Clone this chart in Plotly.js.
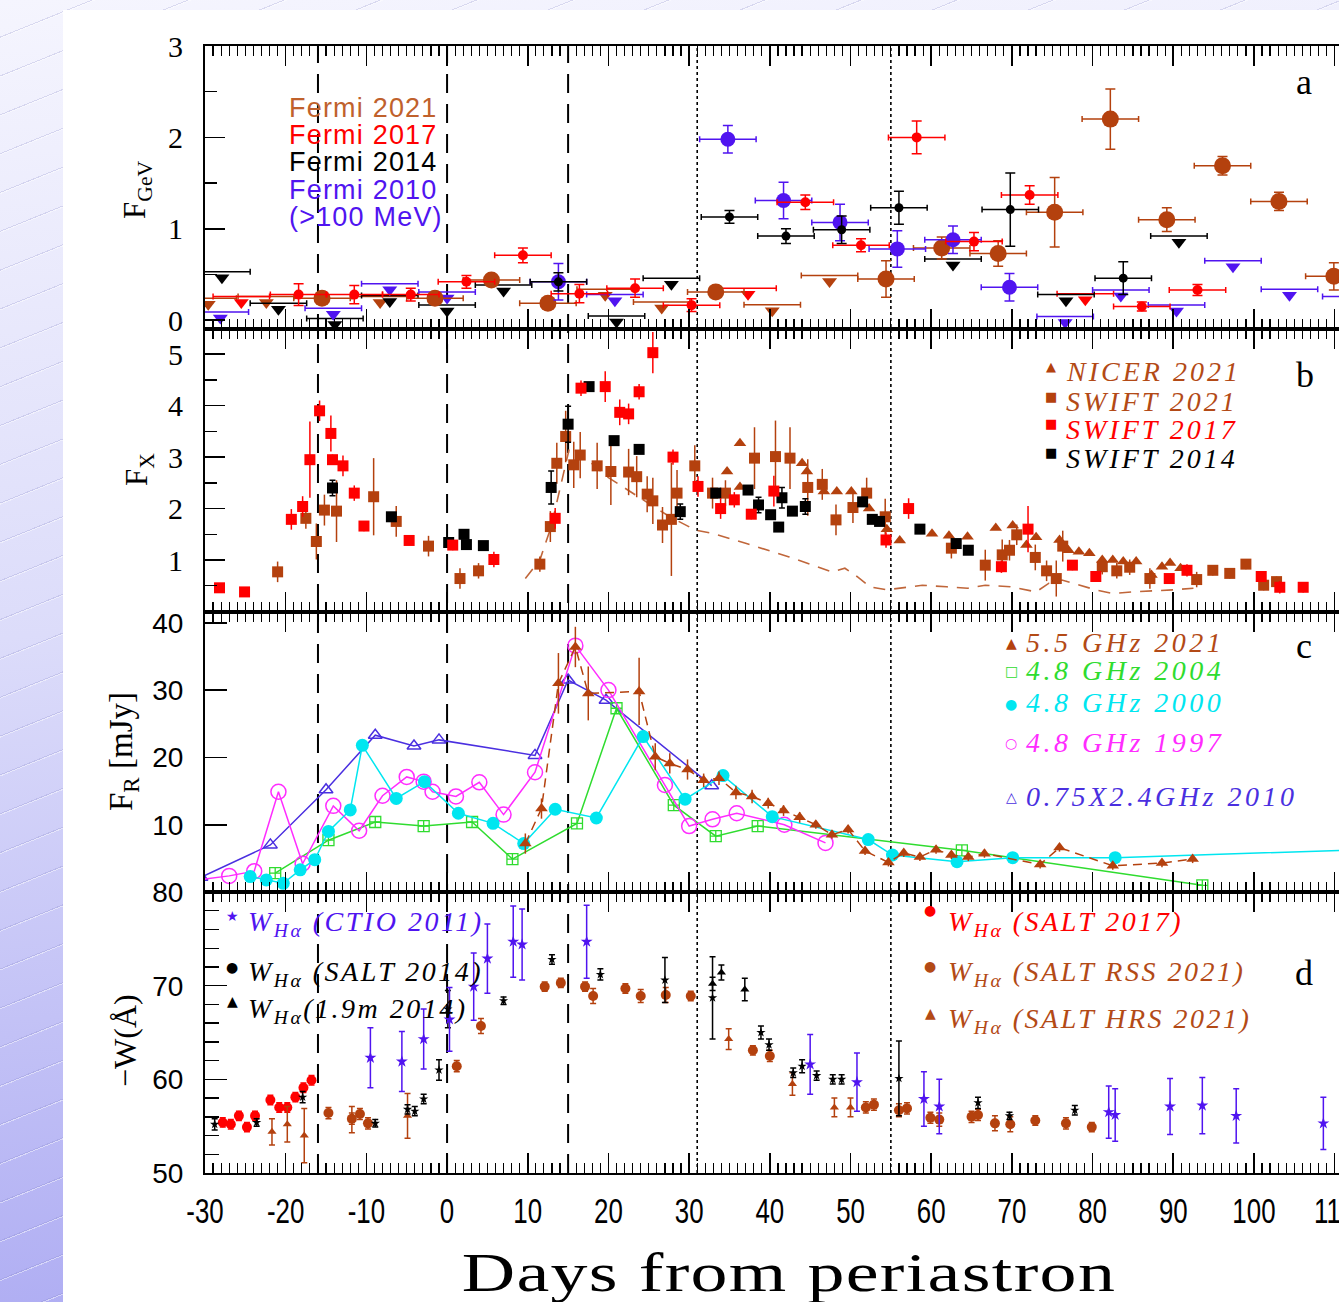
<!DOCTYPE html>
<html>
<head>
<meta charset="utf-8">
<script src="https://cdn.plot.ly/plotly-3.0.1.min.js"></script>
<style>
  html, body { margin: 0; padding: 0; width: 1339px; height: 1302px; overflow: hidden; }
  body {
    background:
      repeating-linear-gradient(158deg, rgba(0,0,0,0) 0px, rgba(0,0,0,0) 34px,
        rgba(120,120,190,0.22) 34px, rgba(120,120,190,0.22) 35px,
        rgba(255,255,255,0.45) 35px, rgba(255,255,255,0.45) 36px),
      linear-gradient(175deg, #f5f5fe 0%, #dcdcfa 45%, #a9a7f2 100%);
  }
  #sheet { position: absolute; left: 63px; top: 10px; width: 1276px; height: 1292px; background: #fff; overflow: hidden; }
  #chart { position: absolute; left: 0; top: 0; }
</style>
</head>
<body>
<div id="sheet"><div id="chart"></div></div>
<script>
// ---------------- x axis: days from periastron ----------------
const dayTicks = [-30, -20, -10, 0, 10, 20, 30, 40, 50, 60, 70, 80, 90, 100, 110];
const dayTickText = ['-30', '-20', '-10', '0', '10', '20', '30', '40', '50', '60', '70', '80', '90', '100', '110'];
const periastronMarks = [-16, 0, 15];   // dashed guides
const discMarks = [31, 55];             // dotted guides

// ---------------- panel a: Fermi (>100 MeV) ----------------
const fermi21Day  = [-15.5, -1.5, 5.5, 12.5, 33.3, 54.4, 61.3, 68.3, 75.3, 82.2, 89.2, 96.1, 103.1, 109.9];
const fermi21Flux = [0.24, 0.24, 0.44, 0.185, 0.31, 0.45, 0.79, 0.73, 1.18, 2.2, 1.10, 1.69, 1.30, 0.48];
const fermi21Err  = [0.06, 0.06, 0.06, 0.06, 0.06, 0.2, 0.12, 0.14, 0.38, 0.33, 0.13, 0.1, 0.1, 0.15];
const fermi21LimDay  = [-29.6, -22.4, -8.3, 19.6, 26.6, 40.3, 47.4];
const fermi21LimFlux = [0.24, 0.26, 0.26, 0.34, 0.2, 0.17, 0.49];

const fermi17Day  = [-18.4, -11.5, -4.5, 2.4, 9.4, 16.4, 23.3, 30.3, 44.4, 51.3, 58.2, 65.3, 72.2, 86.1, 93.0];
const fermi17Flux = [0.28, 0.28, 0.28, 0.42, 0.71, 0.29, 0.35, 0.165, 1.29, 0.82, 2.0, 0.86, 1.37, 0.15, 0.33];
const fermi17Err  = [0.12, 0.1, 0.07, 0.07, 0.08, 0.1, 0.1, 0.07, 0.08, 0.07, 0.18, 0.1, 0.1, 0.05, 0.06];
const fermi17LimDay  = [-25.5, 37.3, 79.1];
const fermi17LimFlux = [0.26, 0.35, 0.29];

const fermi14Day  = [13.8, 35.0, 42.0, 48.9, 56.0, 69.8, 83.8];
const fermi14Flux = [0.42, 1.13, 0.92, 0.99, 1.23, 1.21, 0.46];
const fermi14Err  = [0.1, 0.07, 0.08, 0.15, 0.18, 0.4, 0.18];
const fermi14LimDay  = [-27.9, -20.9, -13.9, -7.1, 0.0, 7.0, 21.0, 27.8, 62.7, 76.7, 90.7];
const fermi14LimFlux = [0.53, 0.185, 0.02, 0.27, 0.167, 0.385, 0.046, 0.46, 0.67, 0.28, 0.92];

const fermi10Day  = [13.8, 34.8, 41.7, 48.7, 55.8, 62.7, 69.7];
const fermi10Flux = [0.42, 1.98, 1.31, 1.07, 0.78, 0.88, 0.36];
const fermi10Err  = [0.2, 0.15, 0.2, 0.2, 0.2, 0.15, 0.15];
const fermi10LimDay  = [-28.1, -14.1, -7.1, 0.0, 20.8, 76.6, 83.5, 90.4, 97.4, 104.4, 112.0];
const fermi10LimFlux = [0.09, 0.13, 0.4, 0.31, 0.28, 0.04, 0.33, 0.167, 0.65, 0.34, 0.26];
const fermiHalfBin = 3.5;

// ---------------- panel b: X-ray ----------------
const nicer21Day  = [34.7, 36.3, 36.3, 44.0, 44.6, 46.7, 48.3, 50.1, 52.3, 54.5, 56.1, 60.1, 62.2, 64.5, 68.0,
                     70.1, 71.8, 73.0, 75.9, 77.0, 78.3, 79.6, 81.2, 82.5, 83.8, 85.4, 87.3, 88.6, 89.6, 90.9];
const nicer21Flux = [2.72, 3.27, 2.42, 2.88, 2.72, 2.33, 2.33, 2.33, 2.0, 1.6, 1.38, 1.51, 1.47, 1.45, 1.62,
                     1.67, 1.29, 1.44, 1.39, 1.19, 1.16, 1.13, 1.0, 1.0, 0.97, 0.97, 0.71, 0.87, 0.94, 0.84];

const swift21Day  = [-21.0, -17.5, -16.2, -15.2, -13.7, -9.1, -6.3, -2.3, 1.6, 3.9,
                     11.5, 12.8, 13.6, 14.7, 15.7, 16.5, 18.6, 20.3, 22.5, 23.5,
                     24.8, 25.5, 26.7, 27.8, 28.5, 30.7, 32.9, 34.5, 38.1, 40.7,
                     42.5, 44.7, 46.5, 48.2, 50.3, 52.0, 54.3, 62.5, 66.7, 68.8,
                     69.7, 70.6, 72.9, 74.3, 75.5, 76.3, 81.2, 83.0, 84.6, 87.1,
                     92.9, 94.9, 97.0, 99.0, 101.2, 102.8];
const swift21Flux = [0.77, 1.81, 1.36, 1.97, 1.95, 2.23, 1.75, 1.27, 0.64, 0.79,
                     0.92, 1.65, 2.88, 3.4, 2.85, 3.04, 2.83, 2.72, 2.71, 2.62,
                     2.28, 2.15, 1.68, 1.79, 2.3, 2.83, 2.3, 2.3, 2.98, 3.01,
                     2.98, 2.41, 2.47, 1.78, 2.02, 2.3, 1.84, 1.23, 0.9, 1.1,
                     1.19, 1.49, 1.05, 0.79, 0.64, 1.27, 0.87, 0.79, 0.86, 0.64,
                     0.62, 0.8, 0.74, 0.92, 0.51, 0.58];
const swift21Err  = [0.2, 0.2, 0.35, 0.3, 0.6, 0.75, 0.3, 0.2, 0.2, 0.15,
                     0.15, 0.3, 0.4, 0.5, 0.45, 0.45, 0.45, 0.65, 0.45, 0.4,
                     0.35, 0.45, 0.35, 1.1, 0.45, 0.4, 0.3, 0.25, 0.6, 0.7,
                     0.6, 0.55, 0.3, 0.3, 0.3, 0.3, 0.35, 0.2, 0.3, 0.3,
                     0.2, 0.2, 0.25, 0.2, 0.35, 0.3, 0.15, 0.15, 0.15, 0.2,
                     0.15, 0.1, 0.1, 0.1, 0.1, 0.1];

const swift17Day  = [-28.2, -25.1, -19.3, -17.9, -17.0, -15.8, -14.4, -14.2, -12.9, -11.5,
                     -10.3, -4.7, 0.7, 5.8, 13.4, 16.6, 19.6, 21.4, 22.5, 23.8,
                     25.5, 28.0, 31.1, 33.9, 35.6, 37.7, 40.5, 54.4, 57.2, 68.7,
                     72.0, 77.5, 80.4, 89.5, 91.7, 100.9, 103.2, 106.1];
const swift17Flux = [0.46, 0.38, 1.79, 2.04, 2.95, 3.9, 3.46, 2.95, 2.83, 2.3,
                     1.66, 1.38, 1.29, 1.01, 1.81, 4.34, 4.37, 3.87, 3.84, 4.27,
                     5.03, 3.0, 2.43, 2.0, 2.17, 1.89, 2.34, 1.39, 2.0, 0.87,
                     1.6, 0.9, 0.68, 0.64, 0.8, 0.68, 0.47, 0.47];
const swift17Err  = [0.05, 0.05, 0.2, 0.2, 0.74, 0.2, 0.35, 0.1, 0.2, 0.15,
                     0.1, 0.08, 0.1, 0.15, 0.2, 0.15, 0.3, 0.25, 0.2, 0.15,
                     0.4, 0.15, 0.2, 0.2, 0.15, 0.1, 0.3, 0.15, 0.2, 0.12,
                     0.45, 0.1, 0.1, 0.08, 0.12, 0.1, 0.12, 0.1];

const swift14Day  = [-14.2, -6.9, 0.2, 2.1, 2.4, 4.5, 12.9, 15.0, 17.6, 20.7,
                     23.8, 28.9, 33.3, 37.3, 38.6, 40.1, 41.1, 41.5, 42.8, 44.4,
                     51.5, 52.7, 53.6, 58.6, 63.1, 64.6];
const swift14Flux = [2.4, 1.84, 1.34, 1.5, 1.3, 1.28, 2.41, 3.64, 4.37, 3.32,
                     3.15, 1.94, 2.3, 2.36, 2.07, 1.88, 1.64, 2.21, 1.95, 2.04,
                     2.13, 1.79, 1.75, 1.6, 1.32, 1.19];
const swift14Err  = [0.15, 0.05, 0.05, 0.05, 0.05, 0.05, 0.32, 0.35, 0.05, 0.05,
                     0.05, 0.15, 0.05, 0.08, 0.15, 0.05, 0.05, 0.2, 0.05, 0.15,
                     0.05, 0.05, 0.05, 0.05, 0.05, 0.05];

const xrayTrendDay  = [9.7, 11.5, 12.9, 14.0, 15.2, 17.0, 20.0, 24.0, 27.6, 30.8,
                       32.9, 37.1, 42.4, 47.7, 49.3, 50.8, 52.4, 54.5, 57.2, 58.9,
                       61.9, 64.5, 66.7, 69.8, 73.0, 74.6, 76.2, 80.4, 82.5, 85.0,
                       89.9, 92.5];
const xrayTrendFlux = [0.64, 1.0, 1.65, 2.4, 3.2, 3.0, 2.6, 2.2, 1.84, 1.58,
                       1.52, 1.32, 1.06, 0.77, 0.84, 0.68, 0.48, 0.42, 0.48, 0.51,
                       0.48, 0.45, 0.51, 0.48, 0.38, 0.55, 0.61, 0.42, 0.35, 0.38,
                       0.42, 0.45];

// ---------------- panel c: radio (mJy) ----------------
const radio21Day  = [9.7, 11.7, 13.8, 15.9, 17.5, 23.8, 25.8, 27.6, 29.8, 31.8,
                     33.7, 35.8, 37.8, 39.8, 41.7, 43.7, 45.7, 47.7, 49.7, 51.8,
                     54.7, 56.6, 58.6, 60.6, 62.5, 64.6, 66.6, 73.5, 75.9, 82.5,
                     88.6, 92.4];
const radio21Flux = [7.2, 12.4, 31.0, 36.4, 29.5, 29.8, 20.1, 19.1, 18.2, 16.6,
                     16.9, 14.8, 14.2, 13.2, 12.1, 11.1, 10.0, 8.5, 9.3, 6.1,
                     4.4, 5.8, 5.2, 6.3, 5.5, 5.2, 5.7, 4.1, 6.6, 3.9,
                     4.3, 4.9];
const radio21Err  = [1.5, 1.5, 4.5, 3.0, 4.0, 5.0, 2.0, 1.5, 1.5, 1.0,
                     1.0, 1.0, 1.0, 0.8, 0.8, 0.8, 0.6, 0.6, 0.6, 0.6,
                     0.6, 0.6, 0.6, 0.6, 0.6, 0.6, 0.6, 0.6, 0.6, 0.6,
                     0.6, 0.6];

const radio04Day  = [-21.3, -14.7, -8.9, -2.9, 3.1, 8.1, 16.1, 21.0, 28.1, 33.3, 38.5, 63.8, 93.6];
const radio04Flux = [2.8, 7.7, 10.4, 9.8, 10.4, 4.9, 10.2, 27.3, 12.9, 8.3, 9.8, 6.2, 1.0];

const radio00Day  = [-24.4, -22.4, -20.3, -18.2, -16.4, -14.7, -12.0, -10.5, -6.3, -2.8,
                     1.4, 5.7, 9.5, 13.4, 18.5, 24.3, 29.5, 34.2, 40.3, 52.2,
                     55.2, 63.2, 70.1, 82.8, 116.0];
const radio00Flux = [2.3, 1.8, 1.3, 3.3, 4.8, 9.0, 12.2, 21.8, 13.9, 16.4,
                     11.7, 10.2, 7.2, 12.3, 11.0, 23.1, 13.8, 17.3, 11.2, 7.8,
                     5.5, 4.5, 5.1, 5.1, 6.4];

const radio97Day  = [-31.5, -27.0, -23.9, -20.9, -17.9, -14.1, -10.9, -8.0, -5.0, -2.9,
                     -1.8, 1.1, 4.0, 7.0, 10.9, 15.9, 20.0, 27.0, 30.0, 32.9,
                     35.9, 41.8, 46.9];
const radio97Flux = [1.7, 2.4, 3.1, 14.9, 4.2, 12.8, 9.1, 14.3, 17.1, 16.4,
                     14.9, 14.2, 16.3, 11.5, 17.8, 36.6, 30.0, 15.9, 9.8, 10.8,
                     11.7, 10.0, 7.3];

const radio10Day  = [-30.5, -21.9, -15.0, -8.9, -4.1, -1.0, 10.9, 15.0, 19.7, 32.8];
const radio10Flux = [2.2, 7.0, 15.2, 23.3, 21.7, 22.6, 20.3, 31.5, 28.5, 15.8];   // 0.75 x 2.4 GHz

// ---------------- panel d: H-alpha equivalent width ----------------
const ctio11Day = [-9.5, -5.6, -2.9, 0.3, 3.3, 5.0, 8.2, 9.3, 17.3, 45.0,
                   50.8, 59.1, 61.0, 82.0, 82.8, 89.6, 93.6, 97.8, 108.6];
const ctio11W   = [62.3, 61.9, 64.3, 66.4, 69.9, 72.9, 74.7, 74.4, 74.7, 61.6,
                   59.7, 57.9, 57.1, 56.5, 56.2, 57.1, 57.2, 56.1, 55.3];
const ctio11Err = [3.2, 3.2, 3.2, 3.4, 3.6, 3.7, 3.8, 3.8, 3.9, 3.2,
                   3.1, 2.9, 2.9, 2.8, 2.8, 3.0, 3.0, 2.9, 2.8];

const salt14Day = [-28.8, -23.6, -17.9, -8.9, -4.9, -4.0, -2.9, -1.0, 0.1, 7.0,
                   13.0, 19.0, 27.0, 32.9, 38.9, 39.9, 42.9, 44.0, 45.8, 47.8,
                   48.9, 56.0, 65.8, 69.7, 77.8];
const salt14W   = [55.2, 55.4, 58.1, 55.3, 56.8, 56.6, 57.9, 61.0, 67.5, 68.4,
                   72.8, 71.2, 70.6, 68.7, 65.0, 63.7, 60.7, 61.4, 60.4, 60.0,
                   60.0, 60.1, 57.5, 56.1, 56.7];
const salt14Err = [0.6, 0.4, 0.6, 0.4, 0.5, 0.5, 0.5, 1.1, 2.0, 0.4,
                   0.5, 0.6, 2.4, 4.4, 0.7, 0.6, 0.5, 0.7, 0.5, 0.5,
                   0.5, 4.0, 0.6, 0.4, 0.5];

const m19Day = [32.9, 34.0, 36.9];
const m19W   = [70.2, 71.4, 69.6];
const m19Err = [0.7, 0.8, 1.2];

const salt17Day = [-27.8, -26.8, -25.8, -24.8, -23.8, -21.9, -20.8, -19.8, -18.8, -17.8, -16.8];
const salt17W   = [55.4, 55.2, 56.1, 54.9, 56.1, 57.8, 57.0, 57.0, 58.1, 59.1, 59.9];
const salt17Err = [0.5, 0.5, 0.5, 0.5, 0.5, 0.5, 0.5, 0.5, 0.5, 0.5, 0.5];

const rss21Day = [-14.7, -11.8, -10.8, -9.8, 1.2, 4.2, 12.1, 14.1, 17.1, 18.1,
                  22.1, 24.0, 27.1, 30.2, 37.9, 40.0, 51.9, 52.9, 56.0, 57.0,
                  59.9, 61.0, 65.0, 65.8, 67.9, 69.8, 72.9, 76.7, 79.9];
const rss21W   = [56.4, 55.8, 56.3, 55.3, 61.4, 65.7, 69.9, 70.3, 69.9, 68.9,
                  69.7, 68.9, 69.0, 68.9, 63.1, 62.5, 57.0, 57.3, 56.7, 56.9,
                  55.9, 55.7, 56.0, 56.2, 55.3, 55.2, 55.6, 55.3, 54.9];
const rss21Err = [0.6, 0.6, 0.6, 0.6, 0.6, 0.8, 0.5, 0.5, 0.5, 0.8,
                  0.5, 0.7, 0.8, 0.5, 0.5, 0.6, 0.6, 0.6, 0.7, 0.6,
                  0.6, 0.7, 0.6, 0.6, 0.8, 0.8, 0.5, 0.6, 0.5];

const hrs21Day = [-21.7, -19.8, -17.7, -11.8, -4.9, 34.9, 42.8, 48.0, 50.0];
const hrs21W   = [54.4, 55.2, 54.0, 55.7, 56.1, 64.3, 59.5, 57.0, 57.0];
const hrs21Err = [1.4, 1.9, 2.9, 1.4, 2.4, 1.1, 1.2, 1.0, 1.0];

// ---------------- colours & fonts ----------------
const BROWN = '#b4410e', BROWN_TXT = '#c0612c', BROWN_KEY = '#b34a16', RED = '#ff0000', BLUE = '#5014f0',
      BLACK = '#000000', CYAN = '#00e6f0', GREEN = '#2fdc2f', MAGENTA = '#ff2cff', RBLUE = '#4a2fe0';
const SERIF = '"Liberation Serif", "Times New Roman", serif';
const SANS = '"Liberation Sans", Arial, sans-serif';
const GLYPH = '"DejaVu Sans", sans-serif';

// plot-area geometry (page pixels) used to place text in paper coordinates
const PLOT_LEFT = 205, PLOT_BOTTOM = 1173, PLOT_W = 1170, PLOT_H = 1127;
const px2paperX = px => (px - PLOT_LEFT) / PLOT_W;
const px2paperY = py => (PLOT_BOTTOM - py) / PLOT_H;

const AXES = { a: ['x', 'y'], b: ['x2', 'y2'], c: ['x3', 'y3'], d: ['x4', 'y4'] };
const PX_PER_UNIT = { a: 91.3 };

function series(panel, x, y, o) {
  const t = {
    type: 'scatter', mode: o.mode || 'markers', x: x, y: y,
    xaxis: AXES[panel][0], yaxis: AXES[panel][1],
    marker: { symbol: o.symbol || 'circle', size: o.size || 10,
              color: o.fill !== undefined ? o.fill : o.color,
              line: { color: o.color, width: o.mlw || 0 } },
    line: { color: o.color, width: o.lw || 1.5, dash: o.dash || 'solid' },
    showlegend: false, hoverinfo: 'skip'
  };
  if (o.ey) t.error_y = { type: 'data', array: o.ey, visible: true, color: o.color, thickness: 1.5, width: o.cap === undefined ? 3 : o.cap };
  if (o.ex) t.error_x = { type: 'constant', value: o.ex, visible: true, color: o.color, thickness: 1.5, width: 3 };
  return t;
}

// upper limits: horizontal bin bar at the limit, arrow head hanging just below it
function upperLimits(panel, x, y, color) {
  const bar = series(panel, x, y, { color: color, fill: 'rgba(0,0,0,0)', size: 2, ex: fermiHalfBin });
  const drop = 6 / PX_PER_UNIT[panel];
  const head = series(panel, x, y.map(v => v - drop), { color: color, symbol: 'triangle-down', size: 13 });
  return [bar, head];
}

const traces = [
  // panel a
  ...upperLimits('a', fermi21LimDay, fermi21LimFlux, BROWN),
  ...upperLimits('a', fermi17LimDay, fermi17LimFlux, RED),
  ...upperLimits('a', fermi14LimDay, fermi14LimFlux, BLACK),
  ...upperLimits('a', fermi10LimDay, fermi10LimFlux, BLUE),
  series('a', fermi21Day, fermi21Flux, { color: BROWN, size: 17, ex: fermiHalfBin, ey: fermi21Err, cap: 5 }),
  series('a', fermi10Day, fermi10Flux, { color: BLUE, size: 15, ex: fermiHalfBin, ey: fermi10Err, cap: 5 }),
  series('a', fermi17Day, fermi17Flux, { color: RED, size: 10, ex: fermiHalfBin, ey: fermi17Err, cap: 5 }),
  series('a', fermi14Day, fermi14Flux, { color: BLACK, size: 9, ex: fermiHalfBin, ey: fermi14Err, cap: 5 }),

  // panel b
  series('b', xrayTrendDay, xrayTrendFlux, { mode: 'lines', color: '#c0663a', lw: 1.6, dash: '12px,9px' }),
  series('b', nicer21Day, nicer21Flux, { color: BROWN, symbol: 'triangle-up', size: 11 }),
  series('b', swift21Day, swift21Flux, { color: BROWN, symbol: 'square', size: 11, ey: swift21Err, cap: 0 }),
  series('b', swift14Day, swift14Flux, { color: BLACK, symbol: 'square', size: 11, ey: swift14Err, cap: 3 }),
  series('b', swift17Day, swift17Flux, { color: RED, symbol: 'square', size: 11, ey: swift17Err, cap: 0 }),

  // panel c
  series('c', radio10Day, radio10Flux, { mode: 'lines+markers', color: RBLUE, symbol: 'triangle-up-open', size: 12, mlw: 1.5 }),
  series('c', radio04Day, radio04Flux, { mode: 'lines+markers', color: GREEN, symbol: 'square-cross-open', size: 11, mlw: 1.3 }),
  series('c', radio97Day, radio97Flux, { mode: 'lines+markers', color: MAGENTA, symbol: 'circle-open', size: 15, mlw: 1.5 }),
  series('c', radio00Day, radio00Flux, { mode: 'lines+markers', color: CYAN, symbol: 'circle', size: 13 }),
  series('c', radio21Day, radio21Flux, { mode: 'lines+markers', color: BROWN, symbol: 'triangle-up', size: 11, lw: 1.5, dash: '9px,6px', ey: radio21Err, cap: 0 }),

  // panel d
  series('d', salt17Day, salt17W, { color: RED, size: 10, ey: salt17Err, cap: 3 }),
  series('d', rss21Day, rss21W, { color: BROWN, size: 10, ey: rss21Err, cap: 3 }),
  series('d', hrs21Day, hrs21W, { color: BROWN, symbol: 'triangle-up', size: 8, ey: hrs21Err, cap: 3 }),
  series('d', salt14Day, salt14W, { color: BLACK, symbol: 'star', size: 7, ey: salt14Err, cap: 3 }),
  series('d', m19Day, m19W, { color: BLACK, symbol: 'triangle-up', size: 8, ey: m19Err, cap: 3 }),
  series('d', ctio11Day, ctio11W, { color: BLUE, symbol: 'star', size: 9, ey: ctio11Err, cap: 3 })
];

// ---------------- axes ----------------
function xAxis(anchor, labels) {
  return {
    anchor: anchor, range: [-30, 115], fixedrange: true,
    showline: true, linecolor: '#000', linewidth: 2, mirror: 'allticks',
    ticks: 'inside', ticklen: 20, tickwidth: 1.6, tickcolor: '#000',
    tickmode: 'array', tickvals: dayTicks, ticktext: dayTickText,
    minor: { tick0: 0, dtick: 1, ticks: 'inside', ticklen: 10, tickwidth: 1.2, tickcolor: '#000', showgrid: false },
    showgrid: false, zeroline: false, showticklabels: labels,
    tickfont: { family: SANS, size: 35, color: '#000' }, ticklabelstandoff: 6
  };
}
function yAxis(domain, range, vals, font, len, minorStep, minorLen) {
  const ax = {
    domain: domain, range: range, fixedrange: true,
    showline: true, linecolor: '#000', linewidth: 2, mirror: 'allticks',
    ticks: 'inside', ticklen: len, tickwidth: 1.6, tickcolor: '#000',
    tickmode: 'array', tickvals: vals, ticktext: vals.map(String),
    showgrid: false, zeroline: false,
    tickfont: font, ticklabelstandoff: 14
  };
  if (minorStep) ax.minor = { tick0: 0, dtick: minorStep, ticks: 'inside', ticklen: minorLen, tickwidth: 1.4, tickcolor: '#000', showgrid: false };
  return ax;
}
const serifTick = { family: SERIF, size: 30, color: '#000' };
const sansTick = { family: SANS, size: 28, color: '#000' };

// ---------------- guides ----------------
const shapes = [
  ...periastronMarks.map(d => ({ type: 'line', layer: 'below', xref: 'x', yref: 'paper', x0: d, x1: d, y0: 0, y1: 1,
                                 line: { color: '#000', width: 2, dash: '19px,11px' } })),
  ...discMarks.map(d => ({ type: 'line', layer: 'below', xref: 'x', yref: 'paper', x0: d, x1: d, y0: 0, y1: 1,
                           line: { color: '#000', width: 1.6, dash: '3px,3px' } }))
];

// ---------------- text ----------------
const annotations = [];
const annStyle = [];   // per-annotation letter spacing and horizontal stretch
function note(text, px, py, o) {
  annotations.push({
    text: text, xref: 'paper', yref: 'paper', x: px2paperX(px), y: px2paperY(py),
    xanchor: o.xanchor || 'left', yanchor: o.yanchor || 'middle', align: o.align || 'left',
    showarrow: false, textangle: o.angle || 0,
    font: { family: o.family || SERIF, size: o.size || 28, color: o.color || '#000', style: o.style || 'normal' }
  });
  annStyle.push({ spacing: o.spacing || 0, stretch: o.stretch || 1 });
}

// axis labels
note('F<sub>GeV</sub>', 137, 190, { angle: -90, xanchor: 'center', align: 'center', size: 31 });
note('F<sub>X</sub>', 139, 470, { angle: -90, xanchor: 'center', align: 'center', size: 31 });
note('F<sub>R</sub> [mJy]', 123, 752, { angle: -90, xanchor: 'center', align: 'center', size: 33 });
note('\u2212W(\u00c5)', 125, 1040, { angle: -90, xanchor: 'center', align: 'center', size: 32 });
note('Days from periastron', 789, 1272, { xanchor: 'center', align: 'center', size: 56, spacing: 1, stretch: 1.32 });

// panel tags
note('a', 1304, 82, { xanchor: 'center', align: 'center', size: 36 });
note('b', 1305, 375, { xanchor: 'center', align: 'center', size: 36 });
note('c', 1304, 646, { xanchor: 'center', align: 'center', size: 36 });
note('d', 1304, 973, { xanchor: 'center', align: 'center', size: 36 });

// panel a key
const keyA = [['Fermi 2021', BROWN_TXT], ['Fermi 2017', RED], ['Fermi 2014', BLACK], ['Fermi 2010', BLUE], ['(>100 MeV)', BLUE]];
keyA.forEach((k, i) => note(k[0], 287, 108 + i * 27.2, { family: SANS, size: 27, color: k[1], spacing: 1.2 }));

// panel b key
const keyB = [['\u25b2', 'NICER 2021', BROWN, 371], ['\u25a0', 'SWIFT 2021', BROWN, 401], ['\u25a0', 'SWIFT 2017', RED, 429], ['\u25a0', 'SWIFT 2014', BLACK, 458]];
keyB.forEach(k => {
  note(k[0], 1051, k[3] - 5, { xanchor: 'center', align: 'center', family: GLYPH, size: 13, color: k[2] });
  note(k[1], 1064, k[3], { style: 'italic', size: 28, color: k[2] === BROWN ? BROWN_KEY : k[2], spacing: 3 });
});

// panel c key
const keyC = [['\u25b2', '5.5 GHz 2021', BROWN, BROWN_KEY, 642], ['\u25a1', '4.8 GHz 2004', GREEN, GREEN, 670],
              ['\u25cf', '4.8 GHz 2000', CYAN, CYAN, 703], ['\u25cb', '4.8 GHz 1997', MAGENTA, MAGENTA, 742],
              ['\u25b3', '0.75X2.4GHz 2010', RBLUE, RBLUE, 796]];
keyC.forEach(k => {
  note(k[0], 1011, k[4] + 1, { xanchor: 'center', align: 'center', family: GLYPH, size: 14, color: k[2] });
  note(k[1], 1024, k[4], { style: 'italic', size: 28, color: k[3], spacing: 3.5 });
});

// panel d keys
const keyD = [['\u2605', 'W<sub>H\u03b1</sub> (CTIO 2011)', BLUE, 232, 246, 924, 916],
              ['\u25cf', 'W<sub>H\u03b1</sub> (SALT 2014)', BLACK, 232, 246, 973, 967],
              ['\u25b2', 'W<sub>H\u03b1</sub>(1.9m 2014)', BLACK, 232, 246, 1010, 1001],
              ['\u25cf', 'W<sub>H\u03b1</sub> (SALT 2017)', RED, 930, 946, 924, 910],
              ['\u25cf', 'W<sub>H\u03b1</sub> (SALT RSS 2021)', BROWN_KEY, 930, 946, 973, 966],
              ['\u25b2', 'W<sub>H\u03b1</sub> (SALT HRS 2021)', BROWN_KEY, 930, 946, 1020, 1013]];
keyD.forEach(k => {
  note(k[0], k[3], k[6], { xanchor: 'center', align: 'center', family: GLYPH, size: 14, color: k[2] });
  note(k[1], k[4], k[5], { style: 'italic', size: 28, color: k[2], spacing: 2.5 });
});

const layout = {
  width: 1332, height: 1292,
  margin: { l: 142, r: 20, t: 36, b: 129 },
  paper_bgcolor: '#ffffff', plot_bgcolor: '#ffffff',
  showlegend: false,
  xaxis: xAxis('y', false),
  xaxis2: xAxis('y2', false),
  xaxis3: xAxis('y3', false),
  xaxis4: xAxis('y4', true),
  yaxis: yAxis([0.7489, 1], [-0.096, 3.0], [0, 1, 2, 3], serifTick, 20, 0.5, 12),
  yaxis2: yAxis([0.4978, 0.7489], [-0.01, 5.49], [1, 2, 3, 4, 5], serifTick, 20, 0.5, 12),
  yaxis3: yAxis([0.2493, 0.4978], [0, 41.6], [10, 20, 30, 40], sansTick, 22, 0, 0),
  yaxis4: yAxis([0, 0.2493], [50, 80], [50, 60, 70, 80], sansTick, 22, 2, 14),
  shapes: shapes,
  annotations: annotations
};

// squeeze or stretch an SVG text element horizontally about its own centre
function stretchText(el, factor) {
  const box = el.getBBox();
  const cx = box.x + box.width / 2;
  const prev = el.getAttribute('transform') || '';
  el.setAttribute('transform', prev + ' translate(' + cx + ',0) scale(' + factor + ',1) translate(' + (-cx) + ',0)');
}

Plotly.newPlot('chart', traces, layout, { staticPlot: true }).then(gd => {
  gd.querySelectorAll('g.annotation').forEach(g => {
    const st = annStyle[+g.getAttribute('data-index')];
    if (!st) return;
    g.querySelectorAll('text').forEach(t => {
      if (st.spacing) t.style.letterSpacing = st.spacing + 'px';
      if (st.stretch !== 1) stretchText(t, st.stretch);
    });
  });
  // condensed day labels along the bottom axis
  gd.querySelectorAll('.xaxislayer-above text').forEach(t => stretchText(t, 0.74));
  // drop empty title placeholders
  gd.querySelectorAll('text').forEach(t => { if (!t.textContent.trim()) t.remove(); });
});
</script>
</body>
</html>
